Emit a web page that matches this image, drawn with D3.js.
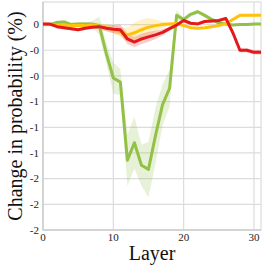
<!DOCTYPE html>
<html>
<head>
<meta charset="utf-8">
<script src="https://cdn.jsdelivr.net/npm/d3@7"></script>
<style>
  html, body { margin: 0; padding: 0; background: #fff; }
  svg { display: block; }
</style>
</head>
<body>
<svg id="chart" width="266" height="266"></svg>
<script>
// layers 0..31
const layers = d3.range(0, 32);

// change in probability (%) per layer
const greenVals = [0.0, 0.0, 0.02, 0.025, 0.0, 0.005, 0.005, 0.005, -0.01, -0.28, -0.52, -0.56,
  -1.32, -1.15, -1.37, -1.41, -1.08, -0.78, -0.62, 0.09, 0.05, 0.1, 0.125, 0.09,
  0.05, 0.015, 0.005, -0.005, 0.0, 0.0, 0.005, 0.005];
const greenErr = [0.02, 0.02, 0.02, 0.02, 0.02, 0.02, 0.02, 0.03, 0.09, 0.1, 0.15, 0.13,
  0.25, 0.25, 0.2, 0.27, 0.27, 0.2, 0.18, 0.05, 0.02, 0.02, 0.02, 0.02,
  0.02, 0.015, 0.01, 0.01, 0.01, 0.01, 0.01, 0.01];

const yellowVals = [0.0, 0.0, -0.005, -0.005, -0.01, -0.01, -0.01, -0.005, -0.015, -0.03, -0.045, -0.07,
  -0.1, -0.08, -0.05, -0.025, -0.01, 0.0, 0.005, 0.01, -0.01, -0.03, -0.035, -0.03,
  -0.02, -0.01, 0.01, 0.05, 0.09, 0.09, 0.09, 0.09];
const yellowErr = [0.01, 0.01, 0.01, 0.01, 0.01, 0.01, 0.01, 0.02, 0.03, 0.035, 0.04, 0.05,
  0.07, 0.1, 0.1, 0.09, 0.06, 0.03, 0.015, 0.01, 0.01, 0.01, 0.01, 0.01,
  0.01, 0.01, 0.01, 0.01, 0.01, 0.01, 0.01, 0.01];

const redVals = [0.007, 0.005, -0.02, -0.03, -0.04, -0.05, -0.035, -0.025, -0.02, -0.035, -0.045, -0.05,
  -0.14, -0.17, -0.14, -0.12, -0.1, -0.075, -0.04, -0.005, 0.04, 0.013, 0.007, 0.03,
  0.035, 0.04, 0.06, -0.08, -0.25, -0.25, -0.27, -0.27];
const redErr = [0.01, 0.01, 0.015, 0.015, 0.015, 0.015, 0.015, 0.015, 0.02, 0.03, 0.04, 0.05,
  0.05, 0.05, 0.05, 0.05, 0.04, 0.03, 0.02, 0.015, 0.015, 0.015, 0.015, 0.015,
  0.015, 0.015, 0.015, 0.02, 0.02, 0.02, 0.02, 0.02];

const xTicks = [0, 10, 20, 30];
const yTicks = [0, -0.25, -0.5, -0.75, -1, -1.25, -1.5, -1.75, -2];
const yTickLabels = ["0", "-0", "-0", "-1", "-1", "-1", "-2", "-2", "-2"];

const series = [
  { name: "green", color: "#93c047", vals: greenVals, err: greenErr },
  { name: "yellow", color: "#ffc20a", vals: yellowVals, err: yellowErr },
  { name: "red", color: "#e3191c", vals: redVals, err: redErr }
];

const svg = d3.select("#chart");
const margin = { top: 2, right: 5, bottom: 36, left: 43 };
const width = 266 - margin.left - margin.right;
const height = 266 - margin.top - margin.bottom;

const x = d3.scaleLinear().domain([0, 31]).range([0, width]);
const y = d3.scaleLinear().domain([-2, 0.22]).range([height, 0]);

const g = svg.append("g").attr("transform", `translate(${margin.left},${margin.top})`);

// grid
g.selectAll(".hgrid").data(yTicks).enter().append("line")
  .attr("x1", 0).attr("x2", width)
  .attr("y1", d => y(d)).attr("y2", d => y(d))
  .attr("stroke", "#dcdcdc").attr("stroke-width", 1.2);
g.selectAll(".vgrid").data(xTicks).enter().append("line")
  .attr("y1", 0).attr("y2", height)
  .attr("x1", d => x(d)).attr("x2", d => x(d))
  .attr("stroke", "#dcdcdc").attr("stroke-width", 1.2);

g.append("rect")
  .attr("width", width).attr("height", height)
  .attr("fill", "none").attr("stroke", "#dcdcdc").attr("stroke-width", 1.2);

// left + bottom axis lines
g.append("line").attr("x1", 0).attr("x2", 0).attr("y1", 0).attr("y2", height)
  .attr("stroke", "#cfcfcf").attr("stroke-width", 1.5);
g.append("line").attr("x1", 0).attr("x2", width).attr("y1", height).attr("y2", height)
  .attr("stroke", "#cfcfcf").attr("stroke-width", 1.5);

// bands and lines
const area = d3.area()
  .x((d, i) => x(layers[i]))
  .y0(d => y(d.v - d.e))
  .y1(d => y(d.v + d.e));

const line = d3.line()
  .x((d, i) => x(layers[i]))
  .y(d => y(d));

series.forEach(s => {
  const pts = s.vals.map((v, i) => ({ v: v, e: s.err[i] }));
  g.append("path").datum(pts)
    .attr("d", area)
    .attr("fill", s.color).attr("fill-opacity", 0.22);
});

series.forEach(s => {
  g.append("path").datum(s.vals)
    .attr("d", line)
    .attr("fill", "none")
    .attr("stroke", s.color)
    .attr("stroke-width", 3)
    .attr("stroke-linejoin", "round");
});

// tick labels
const font = "'Liberation Serif', 'DejaVu Serif', serif";
g.selectAll(".ylab").data(yTicks).enter().append("text")
  .attr("x", -4).attr("y", d => y(d))
  .attr("dy", "0.35em")
  .attr("text-anchor", "end")
  .attr("font-family", font).attr("font-size", 11)
  .attr("fill", "#222")
  .text((d, i) => yTickLabels[i]);

g.selectAll(".xlab").data(xTicks).enter().append("text")
  .attr("x", d => x(d)).attr("y", height + 11)
  .attr("text-anchor", "middle")
  .attr("font-family", font).attr("font-size", 11)
  .attr("fill", "#222")
  .text(d => d);

// axis titles
svg.append("text")
  .attr("x", margin.left + width / 2).attr("y", 260)
  .attr("text-anchor", "middle")
  .attr("font-family", font).attr("font-size", 20)
  .attr("fill", "#111")
  .text("Layer");

svg.append("text")
  .attr("transform", `translate(22,${margin.top + height / 2}) rotate(-90)`)
  .attr("text-anchor", "middle")
  .attr("font-family", font).attr("font-size", 20)
  .attr("fill", "#111")
  .text("Change in probability (%)");
</script>
</body>
</html>
